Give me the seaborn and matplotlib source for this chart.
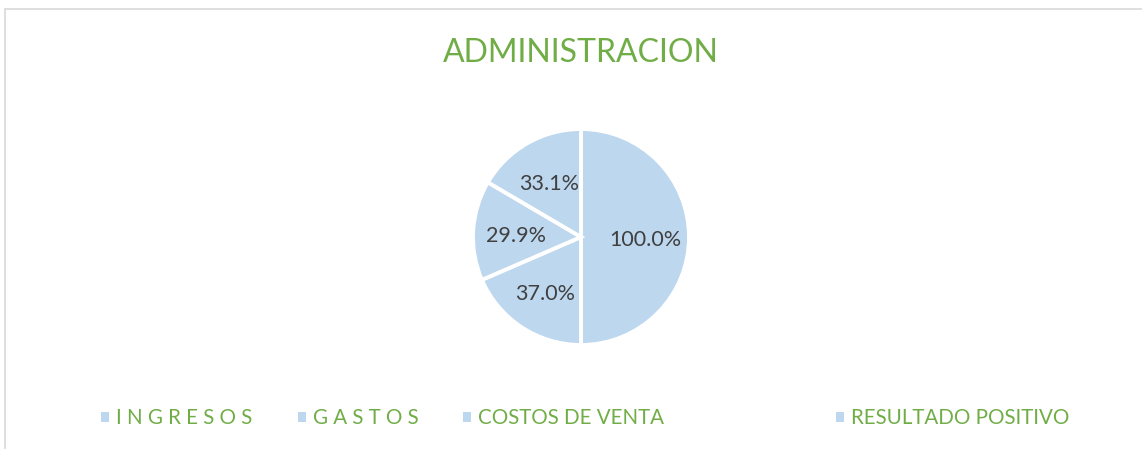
import matplotlib
matplotlib.use("Agg")
import matplotlib.pyplot as plt
import matplotlib.patches as mpatches
import seaborn as sns

# Datos del grafico
categorias = ["I N G R E S O S", "G A S T O S", "COSTOS DE VENTA", "RESULTADO POSITIVO"]
porcentajes = [100.0, 37.0, 29.9, 33.1]
titulo = "ADMINISTRACION"

VERDE = "#70AD47"
AZUL = "#BDD7EE"
GRIS_TEXTO = "#404040"
BORDE = "#D9D9D9"

sns.set_theme(style="white")
plt.rcParams["font.family"] = ["Lato", "DejaVu Sans"]

W, H = 1142, 449
fig = plt.figure(figsize=(W / 100, H / 100), dpi=100)
fig.patch.set_facecolor("white")

# Marco (solo borde superior e izquierdo visibles)
fig.add_artist(mpatches.Rectangle((5 / W, -0.5), 2.0, 1.5 - 9 / H,
                                  transform=fig.transFigure, fill=False,
                                  edgecolor=BORDE, linewidth=1.2))

# Ejes del pastel
cx, cy, r = 581, 237, 108
ax = fig.add_axes([(cx - r) / W, 1 - (cy + r) / H, 2 * r / W, 2 * r / H])
total = sum(porcentajes)
colores = [AZUL] * len(porcentajes)
wedges, textos, autotextos = ax.pie(
    porcentajes, colors=colores, startangle=90, counterclock=False,
    autopct=lambda p: f"{p * total / 100:.1f}%", pctdistance=0.6,
    wedgeprops=dict(edgecolor="white", linewidth=2.8),
    textprops=dict(color=GRIS_TEXTO, fontsize=15.5))
for t in autotextos:
    x, y = t.get_position()
    t.set_position((x, y - 0.03))
ax.set_xlim(-1, 1)
ax.set_ylim(-1, 1)
ax.set_aspect("equal")
ax.axis("off")

fig.text(cx / W, 1 - 53 / H, titulo, ha="center", va="center",
         color=VERDE, fontsize=23)

# Leyenda: una entrada por categoria
pos_x = [101, 298, 463, 836]
for x, lab in zip(pos_x, categorias):
    h = mpatches.Patch(facecolor=AZUL, edgecolor="none")
    fig.legend(handles=[h], labels=[lab], loc="center left",
               bbox_to_anchor=(x / W, 1 - 418 / H), frameon=False,
               fontsize=14.8, handlelength=0.38, handleheight=0.38,
               handletextpad=0.35, borderpad=0, borderaxespad=0,
               labelcolor=VERDE)

fig.savefig("out.png", dpi=100, facecolor="white")
